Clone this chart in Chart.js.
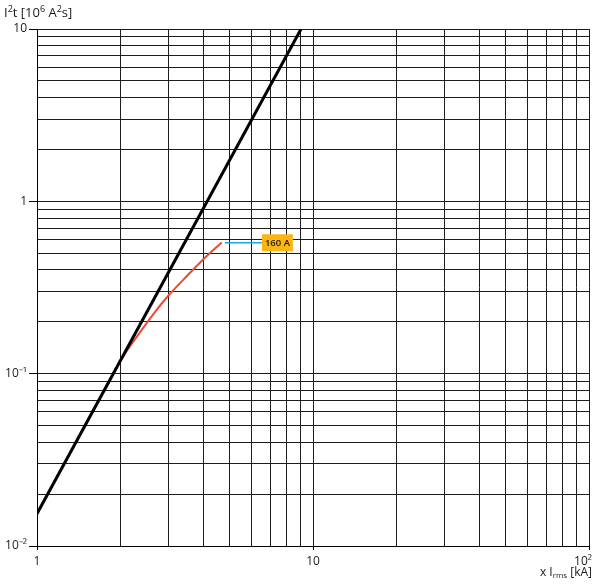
<!DOCTYPE html>
<html lang="en">
<head>
    <meta charset="UTF-8">
    <title>I²t characteristic</title>
    <style>
        html, body { margin: 0; padding: 0; background: #FFFFFF; }
        #chart-container { width: 594px; height: 585px; position: relative; }
    </style>
    <script src="https://cdn.jsdelivr.net/npm/chart.js"></script>
</head>
<body>

<div id="chart-container">
    <canvas id="i2tChart"></canvas>
</div>

<script>
    // Grid values for both log axes
    const xTicks = [1, 2, 3, 4, 5, 6, 7, 8, 9, 10, 20, 30, 40, 50, 60, 70, 80, 90, 100];
    const yTicks = [0.01, 0.02, 0.03, 0.04, 0.05, 0.06, 0.07, 0.08, 0.09,
                    0.1, 0.2, 0.3, 0.4, 0.5, 0.6, 0.7, 0.8, 0.9,
                    1, 2, 3, 4, 5, 6, 7, 8, 9, 10];
    const xMajor = [1, 10, 100];
    const yMajor = [0.01, 0.1, 1, 10];
    const xTickLabels = { 1: "1", 10: "10", 100: "10²\u2002\u2002" };
    const yTickLabels = { 0.01: "10⁻²", 0.1: "10⁻¹", 1: "1", 10: "10" };

    // Black limiting line (x Irms in kA, I²t in 10^6 A²s)
    const limitX = [1, 9.05];
    const limitY = [0.0154, 10];

    // 160 A curve
    const curveX = [1.75, 2.0, 2.4, 2.7, 3.0, 3.5, 4.0, 4.67];
    const curveY = [0.079, 0.118, 0.180, 0.232, 0.285, 0.370, 0.460, 0.577];

    // Leader line to the rating label
    const leaderX = [4.8, 6.53];
    const leaderY = [0.575, 0.575];
    const ratingLabel = "160 A";

    const toPoints = (xs, ys) => xs.map((x, i) => ({ x: x, y: ys[i] }));

    // Draws text made of normal / superscript / subscript pieces
    function drawRichText(ctx, parts, x, y, align, size) {
        const base = size + "px 'Open Sans', sans-serif";
        const small = Math.round(size * 0.68) + "px 'Open Sans', sans-serif";
        let total = 0;
        parts.forEach(p => {
            ctx.font = p.s ? small : base;
            total += ctx.measureText(p.t).width;
        });
        let cx = align === "right" ? x - total : x;
        ctx.textBaseline = "middle";
        ctx.textAlign = "left";
        parts.forEach(p => {
            ctx.font = p.s ? small : base;
            let dy = 0;
            if (p.s === "sup") dy = -3.5;
            if (p.s === "sub") dy = 3;
            ctx.fillText(p.t, cx, y + dy);
            cx += ctx.measureText(p.t).width;
        });
    }

    // Axis titles and the orange rating tag
    const extrasPlugin = {
        id: "extras",
        afterDatasetsDraw(chart) {
            const ctx = chart.ctx;
            const xs = chart.scales.x, ys = chart.scales.y;
            ctx.save();

            // rating tag at the end of the leader line
            const px = xs.getPixelForValue(leaderX[1]);
            const py = ys.getPixelForValue(leaderY[1]);
            ctx.fillStyle = "#FBB614";
            ctx.fillRect(px, py - 8.5, 31, 17);
            ctx.fillStyle = "#1a1a1a";
            ctx.font = "600 9.5px 'Open Sans', sans-serif";
            ctx.textAlign = "center";
            ctx.textBaseline = "middle";
            ctx.fillText(ratingLabel, px + 15.5, py + 0.5);

            ctx.fillStyle = "#1a1a1a";
            drawRichText(ctx, [
                { t: "I" }, { t: "2", s: "sup" }, { t: "t [10" }, { t: "6", s: "sup" },
                { t: " A" }, { t: "2", s: "sup" }, { t: "s]" }
            ], 4, 13, "left", 13);
            drawRichText(ctx, [
                { t: "x I" }, { t: "rms", s: "sub" }, { t: " [kA]" }
            ], 592, 573, "right", 12);
            ctx.restore();
        }
    };

    const gridColor = "#1c1c1c";

    new Chart(document.getElementById("i2tChart").getContext("2d"), {
        type: "scatter",
        data: {
            datasets: [
                {
                    data: toPoints(limitX, limitY),
                    showLine: true,
                    borderColor: "#000000",
                    borderWidth: 3,
                    pointRadius: 0
                },
                {
                    data: toPoints(curveX, curveY),
                    showLine: true,
                    borderColor: "#EE4B2B",
                    borderWidth: 2,
                    pointRadius: 0,
                    cubicInterpolationMode: "monotone"
                },
                {
                    data: toPoints(leaderX, leaderY),
                    showLine: true,
                    borderColor: "#14A9E3",
                    borderWidth: 1.5,
                    pointRadius: 0
                }
            ]
        },
        options: {
            responsive: true,
            maintainAspectRatio: false,
            animation: false,
            layout: { padding: { top: 29, right: 5, left: 0, bottom: 0 } },
            plugins: {
                legend: { display: false },
                tooltip: { enabled: false }
            },
            scales: {
                x: {
                    type: "logarithmic",
                    min: 1,
                    max: 100,
                    afterBuildTicks: scale => {
                        scale.ticks = xTicks.map(v => ({ value: v, major: xMajor.includes(v) }));
                    },
                    afterFit: scale => {
                        scale.height = 39;
                        scale.paddingLeft = 0;
                        scale.paddingRight = 0;
                    },
                    ticks: {
                        autoSkip: false,
                        maxRotation: 0,
                        padding: 4,
                        color: "#1a1a1a",
                        font: { family: "'Open Sans', sans-serif", size: 12 },
                        callback: value => xTickLabels[value] || ""
                    },
                    grid: {
                        color: gridColor,
                        lineWidth: 1,
                        tickLength: 4,
                        tickColor: ctx => (ctx.tick && ctx.tick.major) ? "#000000" : "rgba(0,0,0,0)"
                    },
                    border: { color: "#000000", width: 1 }
                },
                y: {
                    type: "logarithmic",
                    min: 0.01,
                    max: 10,
                    afterBuildTicks: scale => {
                        scale.ticks = yTicks.map(v => ({ value: v, major: yMajor.includes(v) }));
                    },
                    afterFit: scale => {
                        scale.width = 37;
                        scale.paddingTop = 0;
                        scale.paddingBottom = 0;
                    },
                    ticks: {
                        autoSkip: false,
                        padding: 2,
                        color: "#1a1a1a",
                        font: { family: "'Open Sans', sans-serif", size: 12 },
                        callback: value => yTickLabels[value] || ""
                    },
                    grid: {
                        color: gridColor,
                        lineWidth: 1,
                        tickLength: 8,
                        tickColor: ctx => (ctx.tick && ctx.tick.major) ? "#000000" : "rgba(0,0,0,0)"
                    },
                    border: { color: "#000000", width: 1 }
                }
            }
        },
        plugins: [extrasPlugin]
    });
</script>

</body>
</html>
